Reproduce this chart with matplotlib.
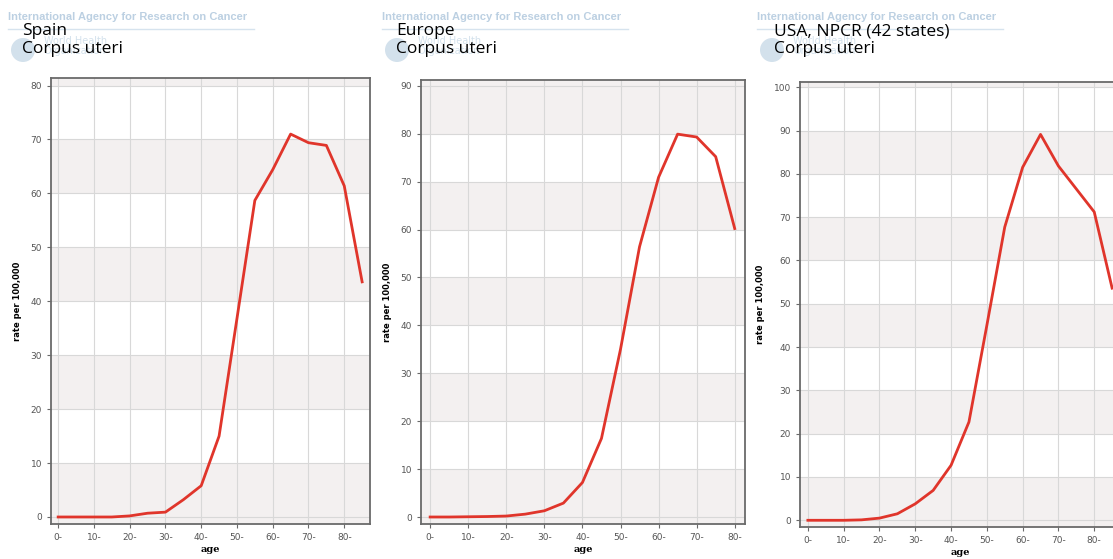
import numpy as np
import matplotlib.pyplot as plt
from matplotlib.patches import Ellipse

# age groups (start of 5-year band)
ages = [0, 5, 10, 15, 20, 25, 30, 35, 40, 45, 50, 55, 60, 65, 70, 75, 80, 85]

# rate per 100,000
spain = [0, 0, 0, 0, 0.2, 0.7, 0.9, 3.2, 5.8, 15.0, 36.8, 58.7, 64.4, 71.0, 69.4, 68.9, 61.4, 43.6]
europe = [0, 0, 0.05, 0.1, 0.2, 0.6, 1.3, 2.9, 7.2, 16.4, 35.0, 56.4, 70.9, 79.9, 79.3, 75.2, 60.2]
usa = [0, 0, 0, 0.1, 0.5, 1.5, 3.8, 6.9, 12.7, 22.7, 45.0, 67.7, 81.5, 89.1, 81.8, 76.5, 71.2, 53.6]

titles = ["Spain\nCorpus uteri", "Europe\nCorpus uteri", "USA, NPCR (42 states)\nCorpus uteri"]
xticks = [0, 10, 20, 30, 40, 50, 60, 70, 80]
xticklabels = [f"{t}-" for t in xticks]

W, H = 1113, 559
fig = plt.figure(figsize=(W / 100, H / 100), dpi=100)

# panel boxes in pixels: left, right, top, bottom
panels = [
    dict(box=(51, 370, 78, 524), ylim=(-1.3, 81.4), xlim=(-2.0, 87.2), ymax=80,
         data=spain, head=(8, 22)),
    dict(box=(421, 745, 80, 524), ylim=(-1.46, 91.2), xlim=(-2.4, 82.7), ymax=90,
         data=europe, head=(382, 396)),
    dict(box=(800, 1120, 82, 527), ylim=(-1.55, 101.2), xlim=(-2.2, 87.2), ymax=100,
         data=usa, head=(757, 774)),
]

band = "#f3f0f0"
grid = "#d8d8d8"
red = "#e0352b"
wm = "#bcd0e2"

for p, title in zip(panels, titles):
    l, r, t, b = p["box"]
    ax = fig.add_axes([l / W, (H - b) / H, (r - l) / W, (b - t) / H])
    ax.set_facecolor(band)
    # white bands between alternating gridlines
    for y0 in range(10, p["ymax"], 20):
        ax.axhspan(y0, y0 + 10, color="white", zorder=0, lw=0)
    ax.set_xlim(*p["xlim"])
    ax.set_ylim(*p["ylim"])
    ax.set_xticks(xticks)
    ax.set_xticklabels(xticklabels)
    ax.set_yticks(range(0, p["ymax"] + 1, 10))
    ax.grid(True, color=grid, lw=0.8, zorder=1)
    ax.set_axisbelow(True)
    x = ages[:len(p["data"])]
    ax.plot(x, p["data"], color=red, lw=2, zorder=3)
    for s in ax.spines.values():
        s.set_color("#6a6a6a")
        s.set_linewidth(1.3)
    ax.tick_params(labelsize=6.5, colors="#6a6a6a", labelcolor="#555555", length=3, width=0.8)
    ax.set_xlabel("age", fontsize=7, fontweight="bold", family="DejaVu Serif", labelpad=2)
    ax.set_ylabel("rate per 100,000", fontsize=6, fontweight="bold", labelpad=6)

    # faded IARC / WHO header
    hx, tx = p["head"]
    fig.text(hx / W, 1 - 17 / H, "International Agency for Research on Cancer",
             fontsize=8, fontweight="bold", color=wm, va="center", ha="left",
             family="Liberation Sans")
    fig.add_artist(plt.Line2D([hx / W, (hx + 246) / W], [1 - 29 / H, 1 - 29 / H],
                              color="#d6e3ee", lw=1))
    fig.add_artist(Ellipse(((hx + 15) / W, 1 - 50 / H), 24 / W, 24 / H, color="#d3e1ec",
                           transform=fig.transFigure, lw=0))
    fig.text((hx + 36) / W, 1 - 46 / H, "World Health\nOrganization", fontsize=7,
             color="#d3e1ec", va="center", ha="left", linespacing=0.9)
    fig.text(tx / W, 1 - 40 / H, title, fontsize=12.5, color="black", va="center",
             ha="left", family="Open Sans", linespacing=1.1)

plt.savefig("out.png", dpi=100)
